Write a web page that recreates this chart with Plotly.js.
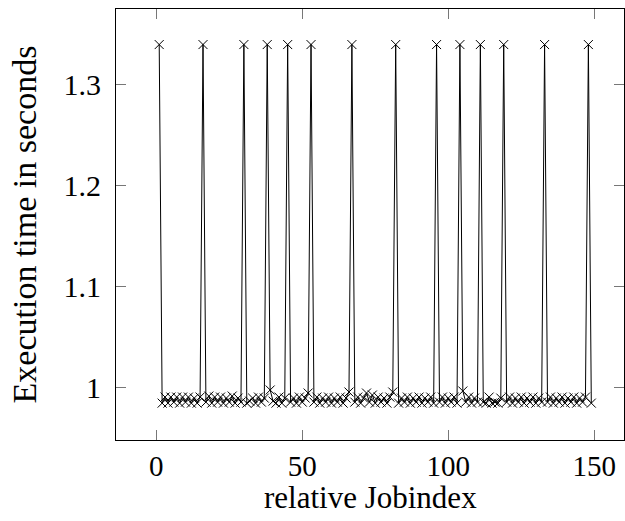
<!DOCTYPE html>
<html>
<head>
<meta charset="utf-8">
<script src="https://cdn.plot.ly/plotly-3.0.1.min.js"></script>
<style>html,body{margin:0;padding:0;background:#fff}#chart{width:625px;height:521px}</style>
</head>
<body>
<div id="chart"></div>
<script>
// Job index (relative) and execution time in seconds
const jobIndex = [];
for (let i = 1; i <= 149; i++) jobIndex.push(i);
const execTime = [
  1.34, 0.985, 0.991, 0.985, 0.991, 0.986, 0.991, 0.985, 0.991, 0.986,
  0.991, 0.985, 0.990, 0.985, 0.991, 1.34, 0.986, 0.992, 0.985, 0.991,
  0.986, 0.991, 0.985, 0.990, 0.986, 0.992, 0.985, 0.990, 0.986, 1.34,
  0.985, 0.987, 0.990, 0.985, 0.991, 0.986, 0.990, 1.34, 0.998, 0.987,
  0.985, 0.991, 0.985, 0.990, 1.34, 0.986, 0.990, 0.985, 0.991, 0.986,
  0.990, 0.995, 1.34, 0.986, 0.991, 0.985, 0.990, 0.986, 0.991, 0.985,
  0.990, 0.986, 0.991, 0.985, 0.990, 0.996, 1.34, 0.986, 0.991, 0.985,
  0.990, 0.995, 0.986, 0.993, 0.985, 0.991, 0.986, 0.990, 0.985, 0.991,
  0.996, 1.34, 0.985, 0.990, 0.986, 0.991, 0.985, 0.990, 0.986, 0.991,
  0.985, 0.990, 0.986, 0.991, 0.985, 1.34, 0.986, 0.991, 0.985, 0.990,
  0.986, 0.991, 0.985, 1.34, 0.997, 0.986, 0.991, 0.985, 0.990, 0.986,
  1.34, 0.986, 0.985, 0.991, 0.985, 0.986, 0.985, 0.990, 1.34, 0.986,
  0.991, 0.985, 0.990, 0.986, 0.991, 0.985, 0.990, 0.986, 0.991, 0.985,
  0.990, 0.986, 1.34, 0.986, 0.991, 0.985, 0.990, 0.986, 0.991, 0.985,
  0.990, 0.986, 0.991, 0.985, 0.990, 0.986, 0.991, 1.34, 0.985
];
const xTicks = [0, 50, 100, 150];
const xTickText = ['0', '50', '100', '150'];
const yTicks = [1, 1.1, 1.2, 1.3];
const yTickText = ['1', '1.1', '1.2', '1.3'];
const xLabel = 'relative Jobindex';
const yLabel = 'Execution time in seconds';

const FONT = 'Liberation Serif, Times New Roman, serif';

const trace = {
  x: jobIndex,
  y: execTime,
  type: 'scatter',
  mode: 'lines+markers',
  line: {color: '#000', width: 1},
  marker: {symbol: 'x-thin-open', size: 9, color: '#000', line: {color: '#000', width: 1}},
  hoverinfo: 'x+y'
};

const layout = {
  width: 625,
  height: 521,
  margin: {l: 116, r: 1, t: 9, b: 81, pad: 0},
  paper_bgcolor: '#fff',
  plot_bgcolor: '#fff',
  showlegend: false,
  font: {family: FONT, color: '#000', size: 29},
  xaxis: {
    range: [-13.8, 160.2],
    tickmode: 'array',
    tickvals: xTicks,
    ticktext: xTickText,
    ticks: 'inside',
    ticklen: 10,
    tickwidth: 1,
    tickcolor: '#777',
    showline: true,
    linecolor: '#000',
    linewidth: 1,
    mirror: 'ticks',
    showgrid: false,
    zeroline: false,
    tickfont: {family: FONT, size: 29, color: '#000'},
    ticklabelstandoff: 0,
    title: {text: ''}
  },
  yaxis: {
    range: [0.9485, 1.3752],
    tickmode: 'array',
    tickvals: yTicks,
    ticktext: yTickText,
    ticks: 'inside',
    ticklen: 10,
    tickwidth: 1,
    tickcolor: '#777',
    showline: true,
    linecolor: '#000',
    linewidth: 1,
    mirror: 'ticks',
    showgrid: false,
    zeroline: false,
    tickfont: {family: FONT, size: 30, color: '#000'},
    ticklabelstandoff: 8,
    title: {text: yLabel, font: {family: FONT, size: 34, color: '#000'}, standoff: 16}
  },
  annotations: [{
    text: xLabel,
    xref: 'paper', yref: 'paper',
    x: 0.5, y: -0.133,
    xanchor: 'center', yanchor: 'middle',
    showarrow: false,
    font: {family: FONT, size: 31, color: '#000'}
  }]
};

Plotly.newPlot('chart', [trace], layout, {staticPlot: true, displayModeBar: false});
</script>
</body>
</html>
